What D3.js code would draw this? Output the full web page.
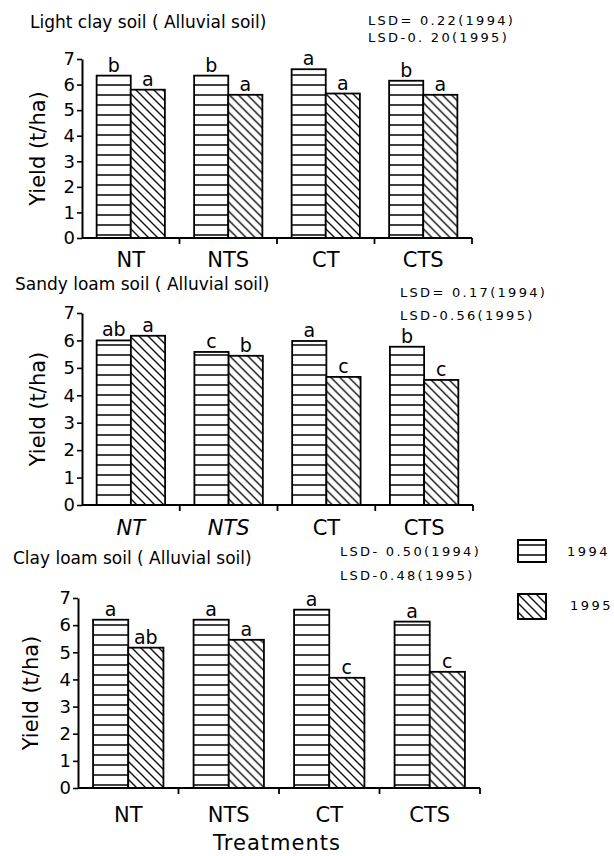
<!DOCTYPE html>
<html>
<head>
<meta charset="utf-8">
<script src="https://cdn.jsdelivr.net/npm/d3@7"></script>
<style>
  body { margin: 0; background: #fff; }
  svg { font-family: "DejaVu Sans", sans-serif; }
</style>
</head>
<body>
<svg width="614" height="856"></svg>
<script>
// chart data
const treatments = ["NT", "NTS", "CT", "CTS"];
const years = ["1994", "1995"];
const soils = [
  "Light clay soil ( Alluvial soil)",
  "Sandy loam soil ( Alluvial soil)",
  "Clay loam soil ( Alluvial soil)"
];
const yield1994 = [
  [6.35, 6.35, 6.6, 6.15],
  [6.0, 5.58, 5.98, 5.77],
  [6.2, 6.2, 6.57, 6.13]
];
const yield1995 = [
  [5.8, 5.6, 5.65, 5.6],
  [6.17, 5.44, 4.67, 4.56],
  [5.17, 5.46, 4.06, 4.28]
];
const letters1994 = [
  ["b", "b", "a", "b"],
  ["ab", "c", "a", "b"],
  ["a", "a", "a", "a"]
];
const letters1995 = [
  ["a", "a", "a", "a"],
  ["a", "b", "c", "c"],
  ["ab", "a", "c", "c"]
];
const lsd1994 = ["LSD= 0.22(1994)", "LSD= 0.17(1994)", "LSD- 0.50(1994)"];
const lsd1995 = ["LSD-0. 20(1995)", "LSD-0.56(1995)", "LSD-0.48(1995)"];
const yTicks = [0, 1, 2, 3, 4, 5, 6, 7];

// where each panel sits on the page
const layout = [
  { left: 82, right: 472, zero: 238, top: 59, titleX: 30, titleY: 28, lsdX: 368, lsdY: [25, 42], ylabX: 45, catY: 267, italic: [] },
  { left: 82, right: 473, zero: 505, top: 313, titleX: 15, titleY: 290, lsdX: 400, lsdY: [297, 320], ylabX: 45, catY: 535, italic: ["NT", "NTS"] },
  { left: 78, right: 480, zero: 788, top: 598, titleX: 13, titleY: 564, lsdX: 340, lsdY: [556, 580], ylabX: 38, catY: 822, italic: [] }
];

let svg = d3.select("svg");
let defs = svg.append("defs");

// horizontal stripes for 1994
let p94 = defs.append("pattern")
  .attr("id", "fill1994")
  .attr("patternUnits", "userSpaceOnUse")
  .attr("width", 10)
  .attr("height", 10);
p94.append("rect").attr("width", 10).attr("height", 10).attr("fill", "#fff");
p94.append("line")
  .attr("x1", 0).attr("x2", 10).attr("y1", 5).attr("y2", 5)
  .attr("stroke", "#111").attr("stroke-width", 1.6);

// diagonal hatch for 1995
let p95 = defs.append("pattern")
  .attr("id", "fill1995")
  .attr("patternUnits", "userSpaceOnUse")
  .attr("width", 9)
  .attr("height", 9);
p95.append("rect").attr("width", 9).attr("height", 9).attr("fill", "#fff");
p95.append("path")
  .attr("d", "M0,0 L9,9 M-2,7 L2,11 M7,-2 L11,2")
  .attr("stroke", "#111").attr("stroke-width", 1.4);

const fillFor = { "1994": "url(#fill1994)", "1995": "url(#fill1995)" };

layout.forEach(function(lay, i) {
  let g = svg.append("g").attr("class", "panel");

  let x0 = d3.scaleBand().domain(treatments).range([lay.left, lay.right]);
  let bw = x0.bandwidth();
  let x1 = d3.scaleBand().domain(years).range([0.15 * bw, 0.85 * bw]);
  let y = d3.scaleLinear().domain([0, 7]).range([lay.zero, lay.top]);

  let rows = treatments.map(function(t, j) {
    return {
      t: t,
      vals: [
        { year: "1994", v: yield1994[i][j], l: letters1994[i][j] },
        { year: "1995", v: yield1995[i][j], l: letters1995[i][j] }
      ]
    };
  });

  // bars
  let groups = g.selectAll("g.grp")
    .data(rows)
    .enter()
    .append("g")
    .attr("class", "grp")
    .attr("transform", (d) => `translate(${x0(d.t)},0)`);

  groups.selectAll("rect")
    .data((d) => d.vals)
    .enter()
    .append("rect")
    .attr("x", (d) => x1(d.year))
    .attr("y", (d) => y(d.v))
    .attr("width", x1.bandwidth())
    .attr("height", (d) => y(0) - y(d.v))
    .attr("fill", (d) => fillFor[d.year])
    .attr("stroke", "#000")
    .attr("stroke-width", 1.8);

  // significance letters
  groups.selectAll("text.sig")
    .data((d) => d.vals)
    .enter()
    .append("text")
    .attr("class", "sig")
    .attr("x", (d) => x1(d.year) + x1.bandwidth() / 2)
    .attr("y", (d) => y(d.v) - 4)
    .attr("text-anchor", "middle")
    .style("font-size", "19px")
    .text((d) => d.l);

  // y axis
  let yAxis = g.append("g")
    .attr("transform", `translate(${lay.left},0)`)
    .call(d3.axisLeft(y).tickValues(yTicks).tickFormat(d3.format("d"))
      .tickSize(5).tickSizeOuter(0).tickPadding(2));
  yAxis.select(".domain").attr("stroke-width", 2);
  yAxis.selectAll(".tick line").attr("stroke-width", 1.6);
  yAxis.selectAll(".tick text")
    .style("font-size", "18px")
    .style("font-family", "DejaVu Sans, sans-serif")
    .attr("fill", "#000");

  // x axis line with ticks between treatments
  g.append("line")
    .attr("x1", lay.left).attr("x2", lay.right)
    .attr("y1", y(0)).attr("y2", y(0))
    .attr("stroke", "#000").attr("stroke-width", 2);
  g.selectAll("line.xtick")
    .data(treatments)
    .enter()
    .append("line")
    .attr("class", "xtick")
    .attr("x1", (d) => x0(d) + bw).attr("x2", (d) => x0(d) + bw)
    .attr("y1", y(0)).attr("y2", y(0) + 6)
    .attr("stroke", "#000").attr("stroke-width", 1.8);

  // treatment labels
  g.selectAll("text.cat")
    .data(treatments)
    .enter()
    .append("text")
    .attr("class", "cat")
    .attr("x", (d) => x0(d) + bw / 2)
    .attr("y", lay.catY)
    .attr("text-anchor", "middle")
    .style("font-size", "21px")
    .style("font-style", (d) => lay.italic.includes(d) ? "italic" : "normal")
    .text((d) => d);

  // y label
  g.append("text")
    .attr("transform", `translate(${lay.ylabX},${(y(0) + y(7)) / 2}) rotate(-90)`)
    .attr("text-anchor", "middle")
    .style("font-size", "21px")
    .text("Yield (t/ha)");

  // panel title
  g.append("text")
    .attr("x", lay.titleX)
    .attr("y", lay.titleY)
    .style("font-size", "17px")
    .text(soils[i]);

  // LSD notes
  g.selectAll("text.lsd")
    .data([lsd1994[i], lsd1995[i]])
    .enter()
    .append("text")
    .attr("class", "lsd")
    .attr("x", lay.lsdX)
    .attr("y", (d, k) => lay.lsdY[k])
    .style("font-size", "13px")
    .style("letter-spacing", "2.3px")
    .text((d) => d);
});

// x title
svg.append("text")
  .attr("x", 277)
  .attr("y", 850)
  .attr("text-anchor", "middle")
  .style("font-size", "21px")
  .style("letter-spacing", "1px")
  .text("Treatments");

// legend
let legend = svg.append("g").attr("class", "legend");
let legendRows = legend.selectAll("g")
  .data(years)
  .enter()
  .append("g")
  .attr("transform", (d, k) => `translate(518,${k === 0 ? 540 : 594})`);
legendRows.append("rect")
  .attr("width", 28)
  .attr("height", (d, k) => k === 0 ? 22 : 25)
  .attr("fill", (d) => fillFor[d])
  .attr("stroke", "#000")
  .attr("stroke-width", 2);
legendRows.append("text")
  .attr("x", (d, k) => k === 0 ? 49 : 52)
  .attr("y", 16)
  .style("font-size", "13px")
  .style("letter-spacing", "2.5px")
  .text((d) => d);
</script>
</body>
</html>
